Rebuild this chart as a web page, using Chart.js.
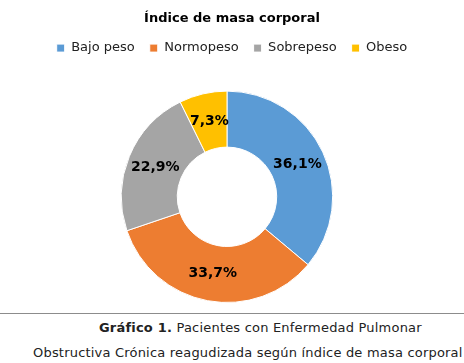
<!DOCTYPE html>
<html>
<head>
<meta charset="utf-8">
<script src="https://cdn.jsdelivr.net/npm/chart.js@4/dist/chart.umd.min.js"></script>
<style>
    body { margin: 0; background: #fff; }
    #wrap { position: relative; width: 464px; height: 363px; overflow: hidden; font-family: "DejaVu Sans", Verdana, sans-serif; }
    #box { position: absolute; left: 0; top: 0; width: 464px; height: 310px; }
    #rule { position: absolute; left: 0; top: 313px; width: 464px; height: 0; border-top: 1px solid #8c8c8c; }
    .cap { position: absolute; font-size: 13px; letter-spacing: 0.2px; color: #222; white-space: nowrap; }
</style>
</head>
<body>
<div id="wrap">
    <div id="box"><canvas id="myChart"></canvas></div>
    <div class="cap" style="left:99px; top:320px;"><b>Gráfico 1.</b> Pacientes con Enfermedad Pulmonar</div>
    <div class="cap" style="left:33px; top:345px;">Obstructiva Crónica reagudizada según índice de masa corporal</div>
    <div id="rule"></div>
</div>
<script>
var categories = ["Bajo peso", "Normopeso", "Sobrepeso", "Obeso"];
var porcentajes = [36.1, 33.7, 22.9, 7.3];
var colores = ["#5b9bd5", "#ed7d31", "#a5a5a5", "#ffc000"];

// etiquetas dentro del anillo
var etiquetas = {
    id: "etiquetas",
    afterDatasetsDraw: function (chart) {
        var ctx = chart.ctx;
        var meta = chart.getDatasetMeta(0);
        ctx.save();
        ctx.font = "bold 14px 'DejaVu Sans', Verdana, sans-serif";
        ctx.fillStyle = "#000";
        ctx.textAlign = "center";
        ctx.textBaseline = "middle";
        meta.data.forEach(function (arc, i) {
            var p = arc.tooltipPosition();
            var txt = porcentajes[i].toFixed(1).replace(".", ",") + "%";
            ctx.fillText(txt, p.x, p.y);
        });
        ctx.restore();
    }
};

// mas espacio bajo la leyenda
var espacioLeyenda = {
    id: "espacioLeyenda",
    beforeInit: function (chart) {
        var fitOrig = chart.legend.fit;
        chart.legend.fit = function () {
            fitOrig.bind(chart.legend)();
            this.height += 26;
        };
    },
    afterLayout: function (chart) {
        // el anillo va un poco a la izquierda del titulo
        chart.chartArea.left -= 5;
        chart.chartArea.right -= 5;
    }
};

const ctx = document.getElementById("myChart");
var myChart = new Chart(ctx, {
    type: "doughnut",
    data: {
        labels: categories,
        datasets: [
            {
                data: porcentajes,
                backgroundColor: colores,
                borderColor: "#fff",
                borderWidth: 1,
            },
        ],
    },
    options: {
        responsive: true,
        maintainAspectRatio: false,
        animation: false,
        cutout: "47%",
        layout: {
            padding: { left: 0, right: 0, top: 0, bottom: 7 },
        },
        plugins: {
            title: {
                display: true,
                text: "Índice de masa corporal",
                color: "#000",
                font: { family: "'DejaVu Sans', Verdana, sans-serif", size: 13, weight: "bold" },
                padding: { top: 11, bottom: 0 },
            },
            legend: {
                display: true,
                position: "top",
                labels: {
                    color: "#222",
                    font: { family: "'DejaVu Sans', Verdana, sans-serif", size: 13 },
                    boxWidth: 8,
                    boxHeight: 8,
                    padding: 15,
                },
            },
            tooltip: { enabled: false },
        },
    },
    plugins: [etiquetas, espacioLeyenda],
});
</script>
</body>
</html>
